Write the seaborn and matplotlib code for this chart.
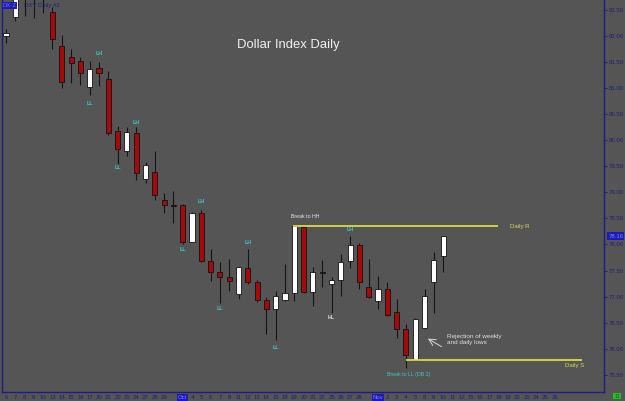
import pandas as pd
import matplotlib
matplotlib.use('Agg')
import matplotlib.pyplot as plt
import seaborn as sns

# daily OHLC (Sep 6 - Nov 10)
opens  = [82.00, 82.37, 82.80, 82.95, 82.85, 82.47, 81.81, 81.59, 81.52, 81.02,
          81.38, 81.17, 80.17, 79.80, 80.14, 79.26, 79.39, 78.85, 78.76, 78.75,
          78.05, 78.60, 77.68, 77.47, 77.38, 77.05, 77.55, 77.28, 76.93, 76.76,
          76.93, 77.06, 78.34, 77.09, 77.46, 77.24, 77.32, 77.68, 77.98, 77.18,
          76.91, 77.14, 76.70, 76.37, 75.79, 76.39, 77.27, 77.77]
highs  = [82.14, 82.78, 83.00, 83.05, 82.95, 82.56, 82.02, 81.76, 81.59, 81.52,
          81.50, 81.32, 80.27, 80.25, 80.25, 79.58, 79.80, 78.98, 79.02, 78.77,
          78.62, 78.66, 77.91, 77.67, 77.73, 77.57, 77.92, 77.32, 77.00, 77.11,
          77.62, 78.36, 78.36, 77.57, 77.71, 77.37, 77.82, 78.16, 78.02, 77.73,
          77.39, 77.28, 76.96, 76.47, 76.58, 77.14, 77.85, 78.16]
lows   = [81.87, 82.28, 82.38, 82.34, 82.45, 81.76, 81.00, 81.09, 81.07, 80.86,
          81.04, 80.11, 79.54, 79.70, 79.24, 79.17, 78.85, 78.60, 78.41, 78.01,
          78.04, 77.66, 77.29, 76.87, 77.11, 76.95, 77.24, 76.90, 76.28, 76.17,
          76.92, 76.92, 77.06, 76.82, 77.18, 76.69, 77.02, 77.54, 77.15, 76.98,
          76.76, 76.63, 76.20, 75.62, 75.78, 76.37, 76.69, 77.48]
closes = [82.05, 82.75, 82.90, 82.85, 82.80, 81.95, 81.12, 81.49, 81.29, 81.37,
          81.30, 80.14, 79.83, 80.15, 79.38, 79.52, 78.94, 78.75, 78.74, 78.05,
          78.61, 77.68, 77.48, 77.38, 77.29, 77.56, 77.27, 76.93, 76.76, 77.02,
          77.06, 78.35, 77.08, 77.47, 77.45, 77.31, 77.67, 77.98, 77.27, 77.00,
          77.15, 76.65, 76.37, 75.88, 76.56, 77.02, 77.70, 78.16]

# one label per trading day slot, '' where the chart leaves it out
day_labels = ['6', '7', '8', '9', '10', '13', '14', '15', '16', '17',
              '20', '21', '22', '23', '24', '27', '28', '29', '', 'Oct',
              '4', '5', '6', '7', '8', '11', '12', '13', '14', '15',
              '18', '19', '20', '21', '22', '25', '26', '27', '28', '',
              'Nov', '2', '3', '4', '5', '8', '9', '10', '11', '12',
              '15', '16', '17', '18', '19', '22', '23', '24', '25', '26']

price_ticks = [75.5, 76.0, 76.5, 77.0, 77.5, 78.0, 78.5, 79.0, 79.5, 80.0, 80.5, 81.0, 81.5, 82.0, 82.5]

# swing labels: (slot, price, text)
swing_slots = [10, 9, 14, 12, 21, 19, 26, 23, 29, 37, 35]
swing_prices = [81.67, 80.70, 80.35, 79.47, 78.83, 77.91, 78.03, 76.78, 76.03, 78.28, 76.59]
swing_texts = ['LH', 'LL', 'LH', 'LL', 'LH', 'LL', 'LH', 'LL', 'LL', 'LH', 'HL']

resist_level = 78.35
support_level = 75.78
last_price = 78.16

df = pd.DataFrame({'open': opens, 'high': highs, 'low': lows, 'close': closes})
df['slot'] = range(len(df))
df['up'] = df['close'] >= df['open']

bg = '#555555'
navy = '#1e1e80'
cyan = '#3cc8c8'
yellow = '#e6e63c'

sns.set_theme(style='dark', rc={'axes.facecolor': bg, 'figure.facecolor': bg})
plt.rcParams['font.family'] = ['Liberation Sans', 'DejaVu Sans']

fig = plt.figure(figsize=(6.25, 4.01), dpi=100)
ax = fig.add_axes([2 / 625, 9 / 401, 602 / 625, 392 / 401])

# wicks then bodies
ax.vlines(df['slot'], df['low'], df['high'], color='#151515', linewidth=0.8, zorder=2)
body_bottom = df[['open', 'close']].min(axis=1)
body_height = (df['close'] - df['open']).abs().clip(lower=0.015)
body_colors = ['white' if u else '#a50a0a' for u in df['up']]
ax.bar(df['slot'], body_height, bottom=body_bottom, width=0.55, color=body_colors,
       edgecolor='#111111', linewidth=0.6, zorder=3)

# support / resistance
ax.hlines(resist_level, 30.9, 52.9, color=yellow, linewidth=1.2, zorder=4)
ax.hlines(support_level, 43.0, 61.9, color=yellow, linewidth=1.2, zorder=4)
ax.text(54.2, resist_level, 'Daily R', color='#d8d860', fontsize=4.3, va='center')
ax.text(60.1, support_level - 0.11, 'Daily S', color='#d8d860', fontsize=4.3, va='center')

for s, p, t in zip(swing_slots, swing_prices, swing_texts):
    ax.text(s, p, t, color='#e0e0e0' if t == 'HL' else cyan, fontsize=3.8,
            ha='center', va='center', fontweight='bold')

ax.text(30.6, 78.54, 'Break to HH', color='#e8e8e8', fontsize=3.8, va='center')
ax.text(41.0, 75.51, 'Break to LL (DB 2)', color=cyan, fontsize=3.8, va='center')
ax.text(47.4, 76.17, 'Rejection of weekly\nand daily lows', color='#e0e0e0', fontsize=4.6,
        va='center', linespacing=1.3)
ax.annotate('', xy=(45.1, 76.22), xytext=(47.1, 76.01),
            arrowprops=dict(arrowstyle='->', color='#d8d8d8', lw=0.7))

fig.text(0.461, 0.888, 'Dollar Index Daily', color='#f0f0f0', fontsize=9.4,
         ha='center', va='center')

ax.set_xlim(-0.43, 64.3)
ax.set_ylim(75.168, 82.692)

ax.yaxis.tick_right()
ax.set_yticks(price_ticks)
ax.set_yticklabels([f'{p:.2f}' for p in price_ticks])
ax.set_xticks(range(len(day_labels)))
ax.set_xticklabels(day_labels)
ax.tick_params(axis='y', which='both', right=True, direction='out', length=2.5, width=0.6,
               color=navy, labelsize=4.3, labelcolor=navy, pad=1)
ax.tick_params(axis='x', which='both', bottom=True, direction='out', length=0,
               labelsize=4.3, labelcolor=navy, pad=2.2)
for lbl in ax.get_xticklabels():
    if lbl.get_text() in ('Oct', 'Nov'):
        lbl.set_color('#8080ff')
        lbl.set_bbox(dict(facecolor='#1c1cb4', edgecolor='none', pad=0.6))

for side in ('left', 'right', 'bottom'):
    ax.spines[side].set_visible(True)
    ax.spines[side].set_color(navy)
    ax.spines[side].set_linewidth(1.0)
ax.spines['top'].set_visible(False)
ax.grid(False)

# current price tag on the price scale
ax.annotate(f'{last_price:.2f}', xy=(1, last_price), xycoords=('axes fraction', 'data'),
            xytext=(3, 0), textcoords='offset points', fontsize=4.3, color='#8080ff',
            va='center', ha='left',
            bbox=dict(facecolor='#1c1cb4', edgecolor='none', pad=0.8))

# chart caption in the corner
fig.text(0.004, 0.992, 'DX-Z', color='#7070ff', fontsize=4.3, va='top', ha='left',
         bbox=dict(facecolor='#1c1cb4', edgecolor='none', pad=0.6))
fig.text(0.038, 0.992, 'DXY Daily #2', color=navy, fontsize=4.3, va='top', ha='left')
fig.text(0.992, 0.006, '11', color='#106010', fontsize=4.0, va='bottom', ha='right',
         bbox=dict(facecolor='#22c022', edgecolor='none', pad=0.6))

fig.savefig('out.png', dpi=100, facecolor=bg)
